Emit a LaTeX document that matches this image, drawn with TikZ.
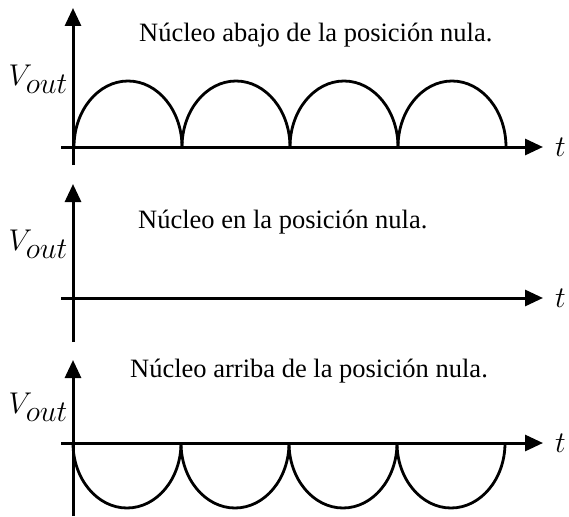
\RequirePackage{fix-cm}
\documentclass[tikz,border=0pt]{standalone}
\usepackage{fontspec}
\setmainfont{Liberation Serif}
\usetikzlibrary{arrows.meta,positioning}
\tikzset{
  eje/.style={line width=3pt, -{Triangle[length=18pt,width=16pt]}},
  onda/.style={line width=2.8pt},
  titulo/.style={font=\fontsize{26.5}{30}\selectfont, anchor=base west, inner sep=0pt},
  etiq/.style={font=\fontsize{30}{34}\selectfont, inner sep=0pt},
}
\begin{document}
\begin{tikzpicture}[x=1pt, y=-1pt]
  \useasboundingbox (0,0) rectangle (569,516);

  % ejes de los tres paneles
  \foreach \i/\ye/\ya/\yb in {1/147/8/165, 2/298/184/342, 3/443/360/516} {
    \coordinate (izq\i) at (61,\ye);
    \coordinate (der\i) at (543,\ye);
    \coordinate (arr\i) at (73,\ya);
    \coordinate (aba\i) at (73,\yb);
    \draw[eje] (aba\i) -- (arr\i);
    \draw[eje] (izq\i) -- (der\i);
    \node[etiq, right=12pt of der\i] (t\i) {$t$};
  }

  % arcos: arriba en el panel 1, abajo en el panel 3
  \foreach \k in {0,...,3} {
    \draw[onda] (74+108*\k,147) arc[start angle=180, end angle=0, x radius=54pt, y radius=66pt];
    \draw[onda] (73+108*\k,443) arc[start angle=180, end angle=360, x radius=54pt, y radius=65pt];
  }

  \node[etiq, anchor=base east] (v1) at (68,85) {$V_{\textstyle out}$};
  \node[etiq, anchor=base east] (v2) at (68,250) {$V_{\textstyle out}$};
  \node[etiq, anchor=base east] (v3) at (68,413) {$V_{\textstyle out}$};

  \node[titulo] (n1) at (139,42) {Núcleo abajo de la posición nula.};
  \node[titulo] (n2) at (138,228) {Núcleo en la posición nula.};
  \node[titulo] (n3) at (130,377) {Núcleo arriba de la posición nula.};
\end{tikzpicture}
\end{document}
